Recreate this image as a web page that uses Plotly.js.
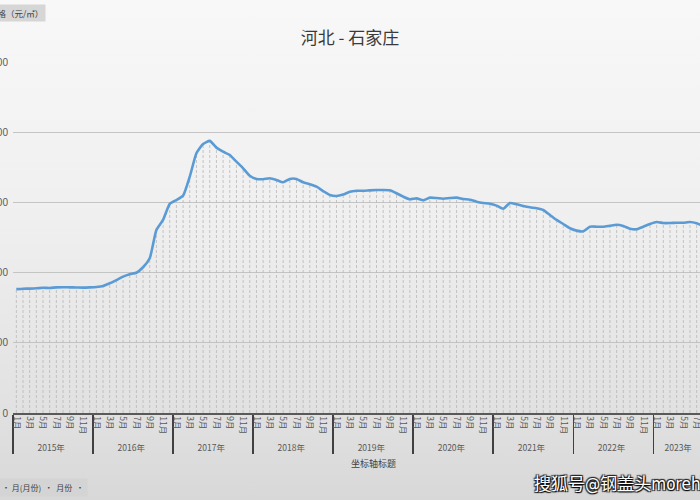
<!DOCTYPE html>
<html>
<head>
<meta charset="utf-8">
<script src="https://cdn.plot.ly/plotly-3.0.1.min.js"></script>
<style>
html,body{margin:0;padding:0;width:700px;height:500px;overflow:hidden;}
body{background:linear-gradient(to bottom,#f8f8f8 0%,#efefef 45%,#e2e2e2 80%,#d8d8d8 100%);}
#chart{width:700px;height:500px;}
</style>
</head>
<body>
<div id="chart"></div>
<script>
// ---- data ----
const years = ["2015年","2016年","2017年","2018年","2019年","2020年","2021年","2022年","2023年"];
const monthLabels = ["1月","2月","3月","4月","5月","6月","7月","8月","9月","10月","11月","12月"];
const price2015 = [8820, 8850, 8860, 8880, 8920, 8900, 8950, 8960, 8950, 8940, 8930, 8950];
const price2016 = [8980, 9050, 9240, 9470, 9710, 9880, 9990, 10380, 11020, 13030, 13750, 14890];
const price2017 = [15170, 15480, 16830, 18500, 19160, 19380, 18900, 18610, 18380, 17900, 17430, 16900];
const price2018 = [16670, 16650, 16720, 16600, 16430, 16670, 16670, 16430, 16290, 16120, 15810, 15530];
const price2019 = [15460, 15560, 15760, 15830, 15830, 15860, 15880, 15880, 15860, 15650, 15410, 15220];
const price2020 = [15290, 15150, 15340, 15310, 15260, 15310, 15340, 15240, 15190, 15050, 14960, 14910];
const price2021 = [14770, 14550, 14960, 14870, 14750, 14650, 14580, 14460, 14100, 13750, 13460, 13160];
const price2022 = [12990, 12940, 13270, 13270, 13270, 13340, 13410, 13320, 13130, 13090, 13270, 13460];
const price2023 = [13600, 13530, 13530, 13550, 13550, 13600, 13510, 13320, null, null, null, null];
const yTicks = [0, 5000, 10000, 15000, 20000, 25000];

const chartTitle = "河北 - 石家庄";
const yFieldLabel = "价格（元/㎡）";
const xAxisTitle = "坐标轴标题";
const fieldButtons = "· 月(月份)  ·  月份  ·";
const watermark = "搜狐号@钢盖头morehigh";

// ---- build categories ----
const allPrices = [price2015, price2016, price2017, price2018, price2019, price2020, price2021, price2022, price2023];
const xYear = [], xMonth = [], yVal = [];
years.forEach((yr, yi) => {
  monthLabels.forEach((m, mi) => {
    xYear.push(yr);
    // only odd months are labelled (as in the reference); even months get invisible unique labels
    xMonth.push(mi % 2 === 0 ? m : "\u200b".repeat(mi + 1));
    yVal.push(allPrices[yi][mi]);
  });
});

// drop lines
const dYear = [], dMonth = [], dVal = [];
for (let i = 0; i < yVal.length; i++) {
  if (yVal[i] === null) continue;
  dYear.push(xYear[i], xYear[i], xYear[i]);
  dMonth.push(xMonth[i], xMonth[i], xMonth[i]);
  dVal.push(0, yVal[i], null);
}

const cjk = '"Noto Sans CJK SC", "Microsoft YaHei", sans-serif';

const traces = [
  {
    type: 'scatter', mode: 'lines',
    x: [dYear, dMonth], y: dVal,
    line: {color: '#b8b8b8', width: 0.8, dash: '3px,2px'},
    connectgaps: false, hoverinfo: 'skip', showlegend: false
  },
  {
    type: 'scatter', mode: 'lines',
    x: [xYear, xMonth], y: yVal,
    line: {color: '#5b9bd5', width: 2.6, shape: 'spline', smoothing: 0.5},
    showlegend: false
  }
];

const layout = {
  width: 700, height: 500,
  margin: {l: 13, r: 0, t: 62, b: 87, pad: 0},
  paper_bgcolor: 'rgba(0,0,0,0)',
  plot_bgcolor: 'rgba(0,0,0,0)',
  showlegend: false,
  font: {family: cjk, color: '#595959'},
  title: {
    text: chartTitle,
    x: 0.5, xref: 'container', xanchor: 'center',
    y: 1 - 38 / 500, yref: 'container', yanchor: 'middle',
    font: {family: cjk, size: 17, color: '#3a3a3a'}
  },
  xaxis: {
    type: 'multicategory',
    range: [-0.5, 102.5],
    showgrid: false,
    showline: true, linecolor: '#595959', linewidth: 1.5,
    ticks: '',
    tickangle: 90,
    tickfont: {family: cjk, size: 8.5, color: '#595959'},
    showdividers: true, dividercolor: '#404040', dividerwidth: 1.5,
    zeroline: false
  },
  yaxis: {
    range: [0, 25000],
    tickvals: yTicks,
    ticktext: yTicks.map(String),
    showgrid: true, gridcolor: '#c4c4c4', gridwidth: 1,
    showline: false, zeroline: false,
    ticks: '',
    ticklabelstandoff: 4,
    tickfont: {family: 'Liberation Sans, Arial, sans-serif', size: 10, color: '#595959'}
  },
  annotations: [
    {
      text: yFieldLabel, xref: 'paper', yref: 'paper',
      x: (46 - 13) / 687, y: (413 - 13) / 351, xanchor: 'right', yanchor: 'middle',
      showarrow: false, bgcolor: '#d6d6d6', borderpad: 2,
      font: {family: cjk, size: 8.5, color: '#404040'}
    },
    {
      text: xAxisTitle, xref: 'paper', yref: 'paper',
      x: (373 - 13) / 687, y: (413 - 463) / 351, xanchor: 'center', yanchor: 'middle',
      showarrow: false,
      font: {family: cjk, size: 9, color: '#404040'}
    },
    {
      text: fieldButtons, xref: 'paper', yref: 'paper',
      x: (88 - 13) / 687, y: (413 - 488) / 351, xanchor: 'right', yanchor: 'middle',
      showarrow: false, bgcolor: '#d4d4d4', borderpad: 3,
      font: {family: cjk, size: 8, color: '#404040'}
    },
    {
      text: watermark, xref: 'paper', yref: 'paper',
      x: (532 - 13) / 687, y: (413 - 484) / 351, xanchor: 'left', yanchor: 'middle',
      showarrow: false,
      font: {family: '"Liberation Sans Narrow", "DejaVu Sans Condensed", "Noto Sans CJK SC", sans-serif', size: 17, color: '#ffffff', weight: 'normal', shadow: '1px 1px 1px #000, -1px -1px 1px #222, 1px -1px 1px #222, -1px 1px 1px #222'}
    }
  ]
};

Plotly.newPlot('chart', traces, layout, {staticPlot: true, displayModeBar: false});
</script>
</body>
</html>
